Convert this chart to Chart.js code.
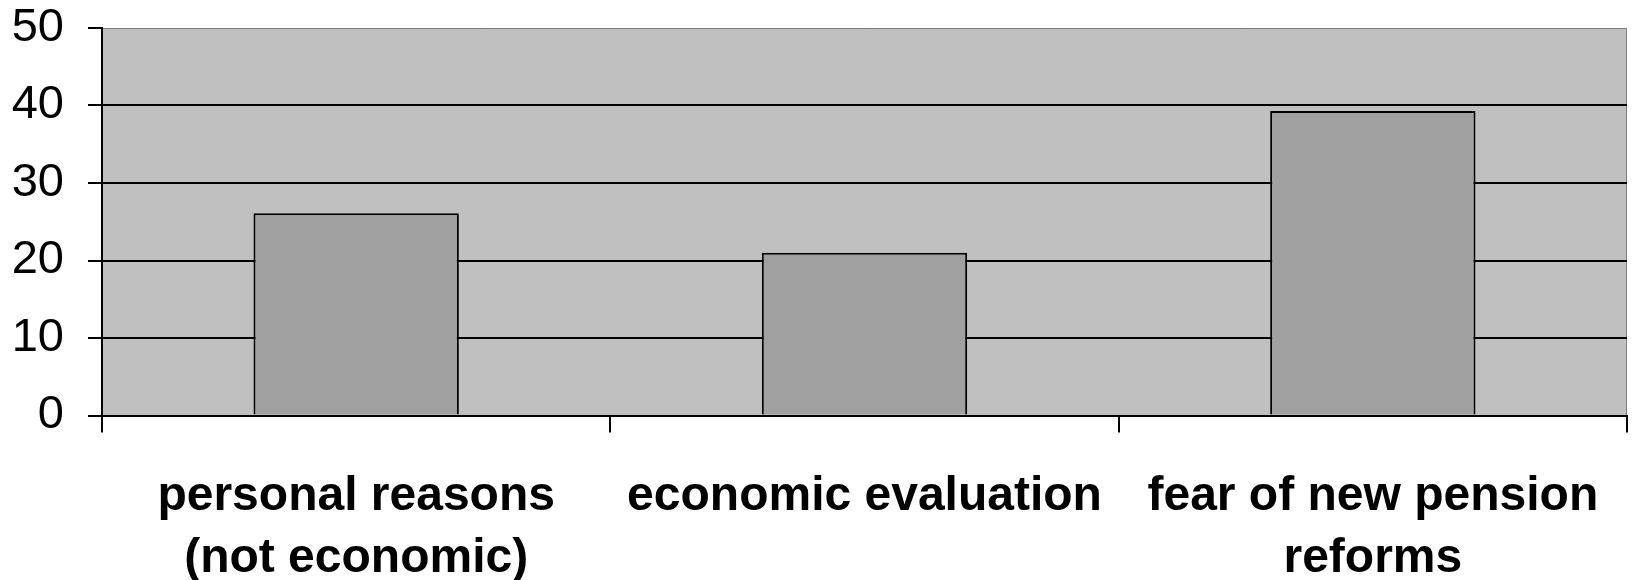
<!DOCTYPE html>
<html>
<head>
<meta charset="utf-8">
<title>Reasons</title>
<script src="https://cdn.jsdelivr.net/npm/chart.js@4/dist/chart.umd.min.js"></script>
<style>
  html, body { margin: 0; padding: 0; background: #ffffff; }
  canvas { display: block; }
</style>
</head>
<body>
<canvas id="chart" width="1634" height="580"></canvas>
<script>
// Categories (multi-line labels) and their shares
const categories = [
  ['personal reasons', '(not economic)'],
  ['economic evaluation'],
  ['fear of new pension', 'reforms']
];
const shares = [26.1, 21, 39.3];

// Value axis range
const axisMin = 0;
const axisMax = 50;
const axisStep = 10;

const FONT = 'Liberation Sans, Arial, Helvetica, sans-serif';

// Grey plot area with a thin darker frame on top and right
const plotBackground = {
  id: 'plotBackground',
  beforeDraw(chart) {
    const { ctx, chartArea: a } = chart;
    ctx.save();
    ctx.fillStyle = '#c0c0c0';
    ctx.fillRect(a.left, a.top, a.right - a.left, a.bottom - a.top);
    ctx.strokeStyle = '#808080';
    ctx.lineWidth = 1;
    ctx.beginPath();
    ctx.moveTo(a.left, a.top + 0.5);
    ctx.lineTo(a.right - 0.5, a.top + 0.5);
    ctx.lineTo(a.right - 0.5, a.bottom);
    ctx.stroke();
    ctx.restore();
  }
};

new Chart(document.getElementById('chart'), {
  type: 'bar',
  data: {
    labels: categories,
    datasets: [{
      data: shares,
      backgroundColor: '#a0a0a0',
      borderColor: '#000000',
      borderWidth: 2,
      categoryPercentage: 1.0,
      barPercentage: 0.404
    }]
  },
  options: {
    responsive: false,
    animation: false,
    layout: { padding: { top: 28, right: 7, left: 0, bottom: 0 } },
    plugins: {
      legend: { display: false },
      tooltip: { enabled: false }
    },
    scales: {
      x: {
        offset: true,
        grid: {
          display: true,
          offset: true,
          drawOnChartArea: false,
          drawTicks: true,
          tickLength: 17,
          color: '#000000',
          lineWidth: 2
        },
        border: { display: true, color: '#000000', width: 2 },
        ticks: {
          color: '#000000',
          padding: 34,
          maxRotation: 0,
          autoSkip: false,
          font: { family: FONT, size: 48, weight: 'bold', lineHeight: 1.28 }
        },
        afterFit(scale) {
          scale.height = 164.5;
          scale.paddingLeft = 0;
          scale.paddingRight = 0;
        }
      },
      y: {
        min: axisMin,
        max: axisMax,
        grid: {
          drawTicks: true,
          tickLength: 14,
          tickColor: '#000000',
          tickWidth: 2,
          color: (c) => (c.tick && c.tick.value === axisMax) ? 'rgba(0,0,0,0)' : '#000000',
          lineWidth: 2
        },
        border: { display: true, color: '#000000', width: 2 },
        ticks: {
          stepSize: axisStep,
          color: '#000000',
          padding: 24,
          font: { family: FONT, size: 47, weight: 'normal', lineHeight: 1.2 }
        },
        afterFit(scale) {
          scale.width = 102;
          scale.paddingTop = 0;
          scale.paddingBottom = 0;
        }
      }
    }
  },
  plugins: [plotBackground]
});
</script>
</body>
</html>
